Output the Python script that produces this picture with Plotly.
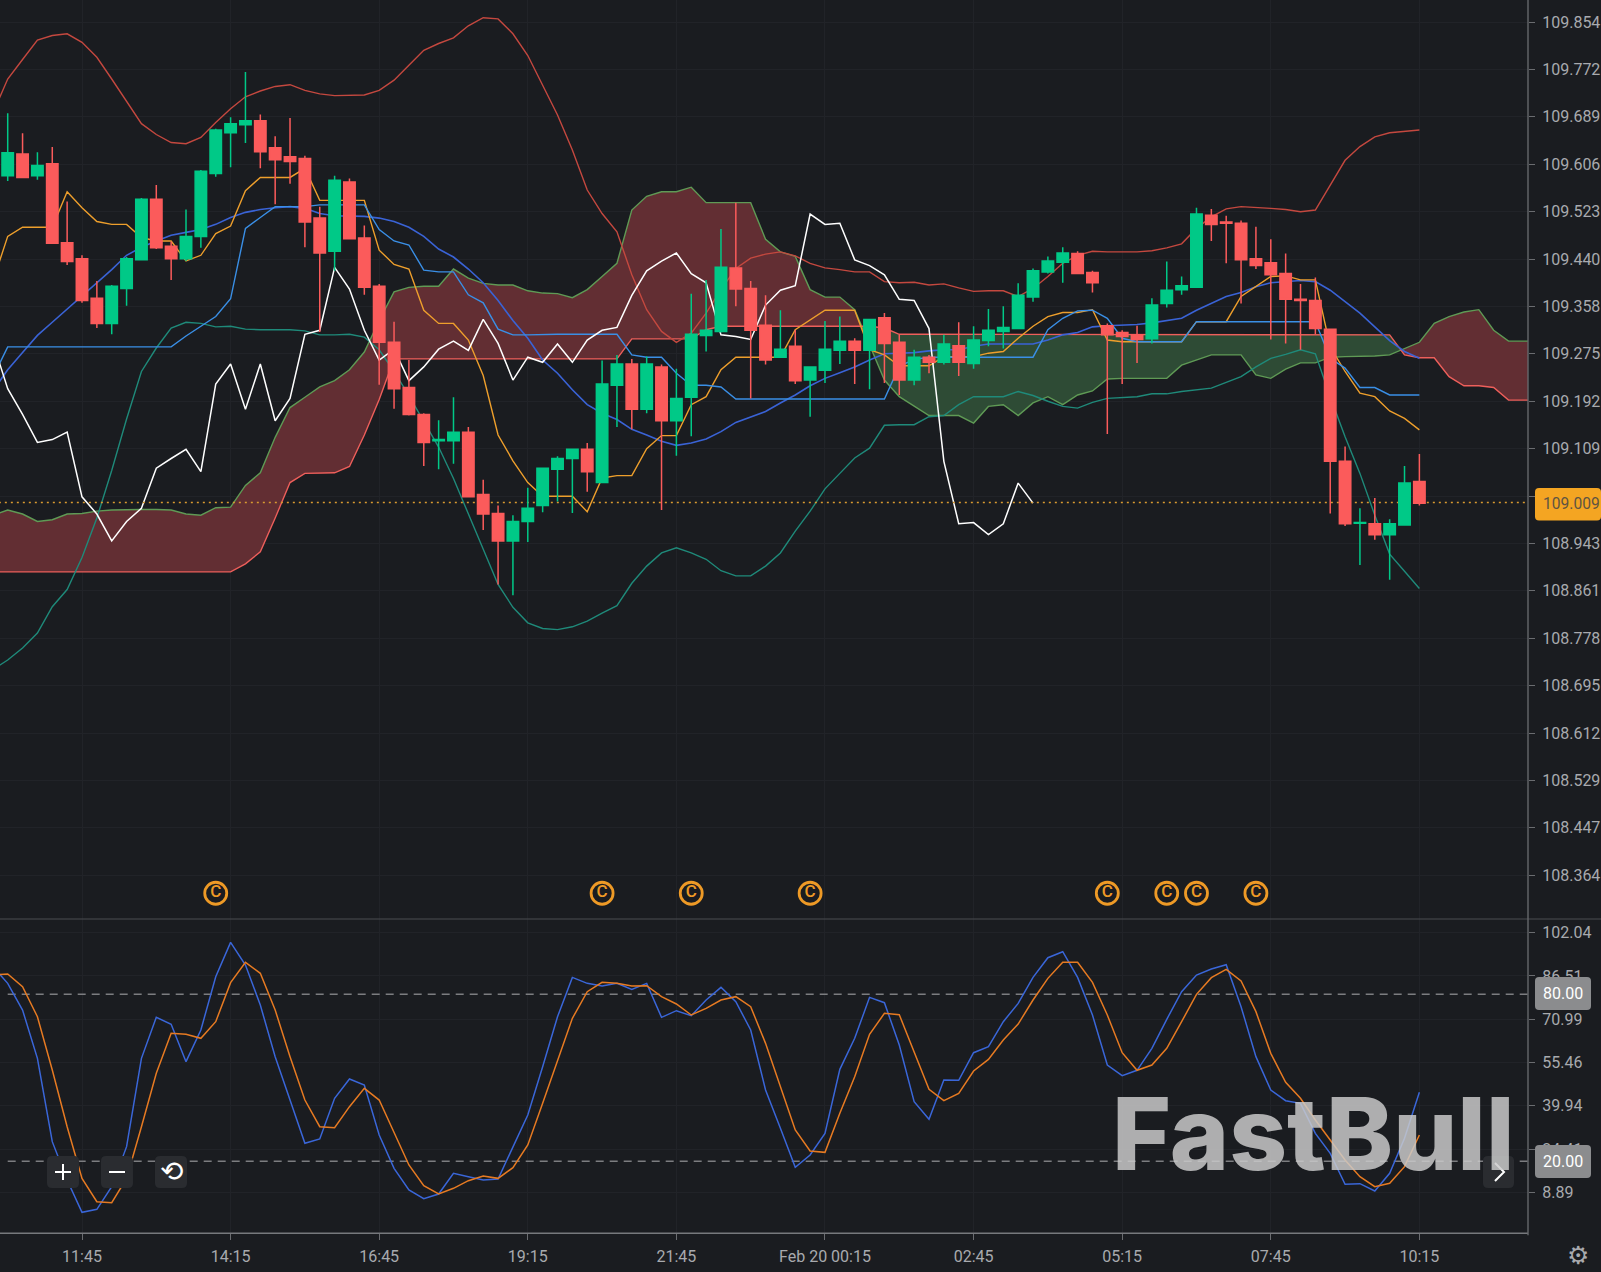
import numpy as np
import plotly.graph_objects as go

W, H = 1601, 1272
BG = "#1a1c20"

# ---------- candles (15 min bars, index 0..95) ----------
opens = [109.586,109.624,109.586,109.607,109.469,109.441,109.372,109.328,109.389,109.439,
 109.545,109.463,109.441,109.480,109.590,109.661,109.675,109.682,109.635,109.619,
 109.616,109.512,109.454,109.575,109.477,109.393,109.295,109.216,109.169,109.123,
 109.123,109.138,109.029,108.996,108.948,108.982,109.010,109.073,109.092,109.108,
 109.050,109.220,109.257,109.178,109.252,109.158,109.199,109.307,109.314,109.425,
 109.389,109.325,109.269,109.288,109.229,109.246,109.281,109.297,109.281,109.338,
 109.295,109.229,109.269,109.260,109.289,109.258,109.298,109.314,109.319,109.374,
 109.418,109.435,109.450,109.417,109.324,109.312,109.308,109.301,109.363,109.387,
 109.391,109.517,109.505,109.503,109.441,109.434,109.415,109.370,109.368,109.318,
 109.087,108.979,108.978,108.959,108.976,109.052]
highs = [109.695,109.660,109.627,109.636,109.541,109.447,109.402,109.395,109.444,109.547,
 109.570,109.471,109.527,109.596,109.668,109.688,109.767,109.693,109.655,109.687,
 109.621,109.532,109.586,109.581,109.499,109.397,109.331,109.264,109.171,109.159,
 109.199,109.147,109.055,109.010,108.993,109.041,109.075,109.096,109.109,109.119,
 109.263,109.273,109.266,109.270,109.256,109.249,109.380,109.404,109.493,109.539,
 109.402,109.377,109.351,109.317,109.253,109.332,109.340,109.302,109.335,109.346,
 109.308,109.282,109.273,109.308,109.330,109.323,109.353,109.358,109.398,109.424,
 109.445,109.461,109.454,109.420,109.328,109.316,109.324,109.372,109.436,109.410,
 109.530,109.528,109.516,109.508,109.497,109.475,109.450,109.397,109.408,109.318,
 109.113,109.005,109.023,108.986,109.079,109.100]
lows = [109.577,109.583,109.579,109.468,109.430,109.364,109.320,109.309,109.359,109.439,
 109.458,109.404,109.437,109.460,109.584,109.601,109.643,109.599,109.536,109.572,
 109.461,109.313,109.420,109.476,109.378,109.221,109.179,109.167,109.079,109.073,
 109.083,109.025,108.967,108.872,108.853,108.946,108.998,109.017,108.997,109.034,
 109.050,109.147,109.143,109.171,109.002,109.097,109.131,109.279,109.312,109.358,
 109.197,109.256,109.269,109.222,109.165,109.224,109.257,109.222,109.213,109.224,
 109.203,109.220,109.241,109.256,109.236,109.249,109.288,109.284,109.318,109.366,
 109.415,109.399,109.415,109.382,109.135,109.222,109.259,109.293,109.356,109.378,
 109.391,109.472,109.433,109.363,109.423,109.300,109.293,109.282,109.309,108.996,
 108.974,108.906,108.950,108.880,108.976,109.010]
closes = [109.626,109.583,109.604,109.468,109.436,109.368,109.328,109.393,109.441,109.545,
 109.460,109.441,109.480,109.594,109.666,109.677,109.682,109.628,109.614,109.611,
 109.505,109.451,109.578,109.476,109.391,109.295,109.214,109.169,109.120,109.125,
 109.138,109.025,108.995,108.948,108.982,109.005,109.075,109.092,109.108,109.069,
 109.222,109.257,109.178,109.257,109.158,109.197,109.309,109.316,109.426,109.388,
 109.316,109.264,109.283,109.228,109.252,109.283,109.297,109.281,109.335,109.293,
 109.229,109.269,109.260,109.292,109.260,109.299,109.316,109.321,109.377,109.420,
 109.437,109.451,109.415,109.399,109.308,109.305,109.300,109.360,109.386,109.394,
 109.519,109.501,109.503,109.439,109.429,109.413,109.370,109.368,109.319,109.087,
 108.978,108.980,108.959,108.978,109.049,109.014]

# ---------- overlays, index -1..95 ----------
bb_upper = [109.695,109.755,109.789,109.823,109.831,109.834,109.819,109.793,109.755,109.717,109.677,
 109.658,109.644,109.642,109.653,109.679,109.703,109.724,109.734,109.742,109.745,
 109.735,109.729,109.726,109.726,109.727,109.735,109.753,109.779,109.805,109.817,
 109.827,109.848,109.862,109.860,109.834,109.796,109.745,109.692,109.631,109.561,
 109.520,109.488,109.413,109.352,109.314,109.295,109.311,109.346,109.387,109.424,
 109.442,109.449,109.453,109.446,109.433,109.425,109.422,109.418,109.418,109.401,
 109.399,109.400,109.395,109.397,109.390,109.384,109.385,109.385,109.375,109.389,
 109.410,109.433,109.447,109.454,109.453,109.453,109.453,109.455,109.460,109.467,
 109.494,109.514,109.528,109.532,109.531,109.529,109.527,109.523,109.526,109.570,
 109.613,109.637,109.654,109.661,109.663,109.666]
bb_mid = [109.210,109.247,109.277,109.307,109.330,109.353,109.375,109.399,109.422,109.447,109.461,
 109.472,109.482,109.487,109.492,109.501,109.513,109.522,109.527,109.530,109.532,
 109.529,109.520,109.516,109.516,109.515,109.512,109.506,109.496,109.480,109.458,
 109.444,109.423,109.399,109.368,109.333,109.302,109.264,109.241,109.212,109.186,
 109.171,109.160,109.143,109.133,109.122,109.115,109.119,109.126,109.139,109.155,
 109.164,109.174,109.189,109.203,109.219,109.232,109.242,109.252,109.264,109.275,
 109.276,109.277,109.280,109.282,109.282,109.288,109.292,109.292,109.292,109.292,
 109.299,109.308,109.312,109.322,109.324,109.325,109.326,109.329,109.333,109.337,
 109.351,109.363,109.375,109.382,109.392,109.399,109.401,109.403,109.401,109.386,
 109.366,109.346,109.322,109.298,109.279,109.267]
bb_lower = [108.723,108.740,108.761,108.787,108.833,108.863,108.919,108.988,109.071,109.161,109.244,
 109.285,109.320,109.330,109.328,109.322,109.323,109.318,109.317,109.317,109.317,
 109.315,109.308,109.308,109.309,109.304,109.282,109.244,109.202,109.157,109.112,
 109.057,108.995,108.933,108.872,108.832,108.805,108.795,108.793,108.798,108.808,
 108.822,108.835,108.874,108.904,108.927,108.936,108.927,108.916,108.896,108.887,
 108.887,108.904,108.927,108.965,109.000,109.039,109.066,109.093,109.110,109.150,
 109.151,109.151,109.165,109.167,109.186,109.200,109.200,109.200,109.209,109.202,
 109.192,109.183,109.180,109.190,109.197,109.199,109.200,109.205,109.205,109.209,
 109.212,109.215,109.225,109.235,109.252,109.267,109.274,109.282,109.275,109.200,
 109.130,109.066,108.993,108.925,108.895,108.865]
tenkan = [109.401,109.480,109.496,109.496,109.496,109.558,109.530,109.506,109.501,109.501,109.478,
 109.472,109.472,109.437,109.447,109.485,109.498,109.560,109.583,109.583,109.583,
 109.599,109.543,109.543,109.543,109.543,109.456,109.431,109.423,109.351,109.328,
 109.328,109.299,109.237,109.133,109.088,109.050,109.026,109.026,109.026,108.999,
 109.058,109.062,109.062,109.109,109.132,109.132,109.186,109.200,109.247,109.269,
 109.269,109.269,109.269,109.317,109.334,109.351,109.351,109.351,109.282,109.273,
 109.254,109.254,109.254,109.270,109.270,109.270,109.276,109.279,109.302,109.323,
 109.340,109.347,109.347,109.352,109.299,109.296,109.296,109.296,109.296,109.296,
 109.331,109.331,109.331,109.375,109.392,109.410,109.411,109.404,109.404,109.287,
 109.244,109.206,109.200,109.175,109.162,109.142]
kijun = [109.234,109.287,109.287,109.287,109.287,109.287,109.287,109.287,109.287,109.287,109.287,
 109.287,109.287,109.306,109.323,109.340,109.371,109.494,109.513,109.532,109.532,
 109.532,109.535,109.535,109.535,109.535,109.492,109.472,109.465,109.421,109.418,
 109.418,109.378,109.364,109.318,109.308,109.308,109.309,109.309,109.309,109.309,
 109.309,109.309,109.273,109.269,109.269,109.241,109.220,109.220,109.217,109.196,
 109.196,109.196,109.196,109.196,109.196,109.196,109.196,109.196,109.196,109.196,
 109.253,109.265,109.269,109.269,109.269,109.269,109.269,109.269,109.269,109.269,
 109.317,109.337,109.350,109.351,109.337,109.302,109.296,109.296,109.296,109.296,
 109.331,109.331,109.331,109.331,109.331,109.331,109.331,109.331,109.331,109.267,
 109.250,109.216,109.216,109.203,109.203,109.203]
# lagging line, index -1..69
chikou = [109.295,109.214,109.169,109.120,109.125,109.138,109.025,108.995,108.948,108.982,109.005,
 109.075,109.092,109.108,109.069,109.222,109.257,109.178,109.257,109.158,109.197,
 109.309,109.316,109.426,109.388,109.316,109.264,109.283,109.228,109.252,109.283,
 109.297,109.281,109.335,109.293,109.229,109.269,109.260,109.292,109.260,109.299,
 109.316,109.321,109.377,109.420,109.437,109.451,109.415,109.399,109.308,109.305,
 109.300,109.360,109.386,109.394,109.519,109.501,109.503,109.439,109.429,109.413,
 109.370,109.368,109.319,109.087,108.978,108.980,108.959,108.978,109.049,109.014]
# cloud edges, index -1..103
senkou_a = [108.993,109.002,108.995,108.982,108.985,108.995,108.996,109.000,109.002,109.003,109.003,
 109.003,109.002,108.995,108.993,109.006,109.007,109.045,109.067,109.129,109.181,
 109.199,109.217,109.228,109.247,109.278,109.333,109.383,109.391,109.393,109.393,
 109.423,109.407,109.398,109.395,109.395,109.385,109.381,109.380,109.373,109.387,
 109.410,109.433,109.526,109.550,109.558,109.558,109.566,109.539,109.539,109.539,
 109.539,109.475,109.453,109.445,109.387,109.374,109.374,109.352,109.291,109.229,
 109.200,109.183,109.167,109.167,109.167,109.154,109.183,109.186,109.167,109.189,
 109.200,109.186,109.203,109.210,109.231,109.232,109.232,109.232,109.232,109.255,
 109.264,109.273,109.273,109.273,109.238,109.232,109.248,109.259,109.259,109.269,
 109.270,109.270,109.271,109.273,109.284,109.295,109.328,109.340,109.348,109.352,
 109.316,109.297,109.297,109.297]
senkou_b = [108.894,108.894,108.894,108.894,108.894,108.894,108.894,108.894,108.894,108.894,108.894,
 108.894,108.894,108.894,108.894,108.894,108.894,108.908,108.929,108.988,109.050,
 109.066,109.066,109.067,109.078,109.133,109.195,109.266,109.266,109.266,109.266,
 109.266,109.266,109.266,109.266,109.266,109.266,109.266,109.266,109.266,109.266,
 109.266,109.266,109.301,109.301,109.301,109.301,109.301,109.317,109.323,109.323,
 109.323,109.323,109.323,109.323,109.323,109.323,109.323,109.323,109.323,109.320,
 109.309,109.309,109.309,109.309,109.309,109.309,109.309,109.309,109.309,109.309,
 109.309,109.309,109.309,109.309,109.309,109.309,109.309,109.309,109.309,109.309,
 109.309,109.309,109.309,109.309,109.309,109.309,109.309,109.309,109.309,109.309,
 109.309,109.309,109.309,109.308,109.273,109.268,109.268,109.235,109.219,109.219,
 109.216,109.194,109.194,109.194]

# ---------- oscillator, index -1..95 ----------
stoch_k = [89.85,83.87,74.30,56.96,27.06,13.31,1.71,2.78,10.91,25.27,56.96,
 71.67,69.16,55.76,67.13,86.26,98.58,90.45,76.10,57.56,41.99,
 26.46,28.02,42.61,49.54,47.39,29.45,17.49,9.72,6.61,8.28,
 15.70,14.50,13.31,13.67,25.27,36.63,53.97,71.91,86.02,83.87,
 82.91,83.87,81.72,83.87,71.67,74.06,72.27,77.89,82.44,77.29,
 67.13,45.60,31.84,17.85,22.28,30.05,53.01,64.14,78.85,76.93,
 61.74,41.41,35.07,49.19,49.07,58.99,61.15,70.12,76.69,86.02,
 93.08,95.23,86.02,72.51,54.57,50.74,52.66,60.55,70.95,80.88,
 86.86,89.01,90.57,75.50,57.56,45.60,41.77,40.81,30.05,22.87,
 11.75,11.99,9.36,15.70,28.26,44.76]
stoch_d = [86.86,87.22,82.67,71.91,52.77,32.44,13.90,5.53,5.17,13.90,32.44,
 51.58,65.93,65.57,64.14,70.12,84.11,91.41,87.46,74.30,57.56,
 41.99,32.44,32.08,39.62,46.20,41.99,30.05,18.69,11.27,8.28,
 10.32,13.07,14.74,13.90,17.73,25.86,40.81,56.36,71.31,80.88,
 84.23,83.87,82.91,83.03,79.09,76.46,72.51,74.90,77.89,79.09,
 75.50,62.34,46.79,31.25,23.71,23.23,37.23,50.38,65.57,73.11,
 72.63,59.35,45.84,41.77,44.40,52.42,56.60,63.54,69.26,77.89,
 85.66,91.41,91.41,84.23,72.51,58.99,52.66,54.57,60.55,70.12,
 79.92,85.90,88.89,84.71,73.71,58.75,48.35,42.61,34.83,27.66,
 20.48,14.50,10.91,12.11,18.09,29.45]

# ---------- events, ticks, levels ----------
event_idx = [14, 40, 46, 54, 74, 78, 80, 84]
event_price = [108.3325] * len(event_idx)
last_price_level = 109.015
last_price_text = "109.009"
stoch_levels = [80.00, 20.00]
time_tick_idx = [5, 15, 25, 35, 45, 55, 65, 75, 85, 95]
time_tick_text = ["11:45", "14:15", "16:45", "19:15", "21:45", "Feb 20 00:15", "02:45", "05:15", "07:45", "10:15"]
price_tick_vals = [109.854,109.772,109.689,109.606,109.523,109.440,109.358,109.275,109.192,
                   109.109,109.026,108.943,108.861,108.778,108.695,108.612,108.529,108.447,108.364]
# the 109.026 label sits wholly under the last-price tag in the reference
price_tick_text = ["109.854","109.772","109.689","109.606","109.523","109.440","109.358","109.275","109.192",
                   "109.109","","108.943","108.861","108.778","108.695","108.612","108.529","108.447","108.364"]
stoch_ticks = ["102.04","86.51","70.99","55.46","39.94","24.41","8.89"]

idx = np.arange(len(closes))
line_idx = np.arange(-1, 96)
cloud_idx = np.arange(-1, 104)
chikou_idx = np.arange(-1, 70)

# ---------- geometry ----------
AX_X = 1528
SEP_Y = 919
BOT_Y = 1233.3
xd = AX_X / W
def py(y):
    return 1 - y / H
def px(x):
    return x / W

TXT = "#a8aaae"
FONT = "Roboto"
GRID = "#212328"
AXC = "#6a6c70"

fig = go.Figure()

# cloud
a = np.array(senkou_a); b = np.array(senkou_b); cx = cloud_idx.astype(float)
def cloud_parts():
    parts = []
    sign = np.sign(a - b)
    cur_x, cur_a, cur_b = [cx[0]], [a[0]], [b[0]]
    for k in range(1, len(cx)):
        if sign[k] != sign[k-1] and sign[k] != 0 and sign[k-1] != 0:
            d0, d1 = a[k-1]-b[k-1], a[k]-b[k]
            t = d0 / (d0 - d1)
            xc = cx[k-1] + t; yc = a[k-1] + t*(a[k]-a[k-1])
            cur_x.append(xc); cur_a.append(yc); cur_b.append(yc)
            parts.append((cur_x, cur_a, cur_b, sign[k-1]))
            cur_x, cur_a, cur_b = [xc], [yc], [yc]
        cur_x.append(cx[k]); cur_a.append(a[k]); cur_b.append(b[k])
    parts.append((cur_x, cur_a, cur_b, sign[-1]))
    return parts
for xs, ya, yb, s in cloud_parts():
    fig.add_trace(go.Scatter(x=xs + xs[::-1], y=ya + yb[::-1], mode="lines", line=dict(width=0),
                             fill="toself", fillcolor="#622e33" if s > 0 else "#2e4b35",
                             hoverinfo="skip", showlegend=False))

def add_line(x, y, color, name, width=1.4, row_axes=("x", "y")):
    fig.add_trace(go.Scatter(x=x, y=y, mode="lines", name=name, line=dict(color=color, width=width),
                             xaxis=row_axes[0], yaxis=row_axes[1], showlegend=False, hoverinfo="skip"))

add_line(cloud_idx, senkou_a, "#5f9a55", "Senkou A")
add_line(cloud_idx, senkou_b, "#ee5f5b", "Senkou B")
add_line(line_idx, bb_upper, "#c4483f", "BB upper")
add_line(line_idx, bb_lower, "#1f8a7a", "BB lower")
add_line(line_idx, bb_mid, "#3a63d6", "BB mid", 1.6)
add_line(line_idx, tenkan, "#ee9f2c", "Tenkan")
add_line(line_idx, kijun, "#3a8fe6", "Kijun")
add_line(chikou_idx, chikou, "#ffffff", "Chikou", 1.5)

# last price line
fig.add_trace(go.Scatter(x=[-1, 104], y=[last_price_level]*2, mode="lines", hoverinfo="skip", showlegend=False,
                         line=dict(color="#d99a30", width=1.4, dash="2px,4px")))

# candles on an overlay subplot so they cover the lines
fig.add_trace(go.Candlestick(x=idx, open=opens, high=highs, low=lows, close=closes, xaxis="x3", yaxis="y3",
    increasing=dict(line=dict(color="#00c987", width=1.5), fillcolor="#00c987"),
    decreasing=dict(line=dict(color="#fb5b5b", width=1.5), fillcolor="#fb5b5b"),
    whiskerwidth=0, showlegend=False, hoverinfo="skip"))

# event markers
fig.add_trace(go.Scatter(x=event_idx, y=event_price, mode="markers+text", text=["C"]*len(event_idx),
    textposition="middle center", textfont=dict(color="#ee9a26", size=17, family=FONT, weight=500),
    marker=dict(symbol="circle-open", size=22, color="#ee9a26", line=dict(width=2.8, color="#ee9a26")),
    xaxis="x3", yaxis="y3", showlegend=False, hoverinfo="skip"))

# oscillator
for lv in stoch_levels:
    fig.add_trace(go.Scatter(x=[0.0, 104], y=[lv, lv], mode="lines", xaxis="x2", yaxis="y2", hoverinfo="skip",
                             showlegend=False, line=dict(color="#7c7d80", width=1.5, dash="8px,6px")))
add_line(line_idx, stoch_k, "#3a66d8", "K", 1.5, ("x2", "y2"))
add_line(line_idx, stoch_d, "#e67a22", "D", 1.5, ("x2", "y2"))

xrange = [-0.518, 102.31]
main_range = [108.2875, 109.893]
st_range = [-5.82, 106.96]

fig.update_layout(
    width=W, height=H, margin=dict(l=0, r=0, t=0, b=0), autosize=False,
    paper_bgcolor=BG, plot_bgcolor=BG, showlegend=False, boxgap=0.23, boxgroupgap=0, dragmode=False,
    font=dict(family=FONT, color=TXT, size=16),
    xaxis=dict(domain=[0, xd], range=xrange, anchor="y", tickvals=time_tick_idx, ticktext=[""]*10,
               showgrid=True, gridcolor=GRID, gridwidth=1, zeroline=False, ticks="", rangeslider=dict(visible=False)),
    yaxis=dict(domain=[py(SEP_Y), 1], range=main_range, anchor="x", side="right",
               tickvals=price_tick_vals, ticktext=price_tick_text,
               showgrid=True, gridcolor=GRID, zeroline=False, ticks="outside", ticklen=6, tickcolor=AXC, tickwidth=1,
               ticklabelstandoff=4, tickfont=dict(size=16, color=TXT, family=FONT)),
    xaxis3=dict(overlaying="x", range=xrange, anchor="y3", visible=False, domain=[0, xd],
                rangeslider=dict(visible=False)),
    yaxis3=dict(overlaying="y", range=main_range, anchor="x3", visible=False, domain=[py(SEP_Y), 1]),
    xaxis2=dict(domain=[0, xd], range=xrange, anchor="y2", tickvals=time_tick_idx, ticktext=time_tick_text,
                showgrid=True, gridcolor=GRID, zeroline=False, ticks="outside", ticklen=6, tickcolor=AXC,
                tickfont=dict(size=16, color=TXT, family=FONT), tickangle=0, ticklabelstandoff=2),
    yaxis2=dict(domain=[py(BOT_Y), py(SEP_Y)], range=st_range, anchor="x2", side="right",
                tickvals=[float(t) for t in stoch_ticks], ticktext=stoch_ticks,
                showgrid=True, gridcolor=GRID, zeroline=False, ticks="outside", ticklen=6, tickcolor=AXC,
                ticklabelstandoff=4, tickfont=dict(size=16, color=TXT, family=FONT)),
)

def rrect(x0, y0, x1, y1, r, fill, layer="above"):
    fx = lambda v: f"{px(v):.6f}"
    fy = lambda v: f"{py(v):.6f}"
    path = (f"M {fx(x0+r)} {fy(y0)} L {fx(x1-r)} {fy(y0)} Q {fx(x1)} {fy(y0)} {fx(x1)} {fy(y0+r)} "
            f"L {fx(x1)} {fy(y1-r)} Q {fx(x1)} {fy(y1)} {fx(x1-r)} {fy(y1)} "
            f"L {fx(x0+r)} {fy(y1)} Q {fx(x0)} {fy(y1)} {fx(x0)} {fy(y1-r)} "
            f"L {fx(x0)} {fy(y0+r)} Q {fx(x0)} {fy(y0)} {fx(x0+r)} {fy(y0)} Z")
    return dict(type="path", xref="paper", yref="paper", path=path, fillcolor=fill, line=dict(width=0), layer=layer)

def hline(x0, x1, y, color, w=1):
    return dict(type="line", xref="paper", yref="paper", x0=px(x0), x1=px(x1), y0=py(y), y1=py(y),
                line=dict(color=color, width=w), layer="above")

def vline(x, y0, y1, color, w=1):
    return dict(type="line", xref="paper", yref="paper", x0=px(x), x1=px(x), y0=py(y0), y1=py(y1),
                line=dict(color=color, width=w), layer="above")

def chevron(x0, y0, xm, ym, y1, color, w=2):
    path = f"M {px(x0):.6f} {py(y0):.6f} L {px(xm):.6f} {py(ym):.6f} L {px(x0):.6f} {py(y1):.6f}"
    return dict(type="path", xref="paper", yref="paper", path=path, line=dict(color=color, width=w), layer="above")

shapes = [
    hline(0, W, SEP_Y, "#4a4c50", 1.2),
    hline(0, AX_X, BOT_Y, "#77797d", 1.6),
    vline(AX_X, 0, BOT_Y + 2, "#66686c", 1.4),
    rrect(1535, 488, 1601, 520.5, 4, "#f4a522"),
    rrect(1535, 977, 1591, 1010, 4, "#8b8c8e"),
    rrect(1535, 1145, 1591, 1178, 4, "#8b8c8e"),
    rrect(47, 1156, 79, 1188, 5, "#2a2c30"),
    rrect(101, 1156, 133, 1188, 5, "#2a2c30"),
    rrect(155, 1156, 187, 1188, 5, "#2a2c30"),
    rrect(1483, 1156, 1514, 1188, 5, "#2a2c30"),
    hline(55, 71, 1172, "#ffffff", 2),
    vline(63, 1164, 1180, "#ffffff", 2),
    hline(109, 125, 1172, "#ffffff", 2),
    chevron(1495, 1163, 1504, 1172, 1181, "#ffffff", 2),
]
fig.update_layout(shapes=shapes)

def ann(x, y, text, size, color, anchor="center", family=FONT, **kw):
    return dict(xref="paper", yref="paper", x=px(x), y=py(y), text=text, showarrow=False, xanchor=anchor,
                yanchor="middle", font=dict(size=size, color=color, family=family, **kw))

annotations = [
    ann(1313, 1133, "FastBull", 101, "rgba(202,202,202,0.84)", "center", "Inter", weight=800),
    ann(1541, 504, last_price_text, 15.6, "#5e5443", "left"),
    ann(1563, 993, f"{stoch_levels[0]:.2f}", 16, "#ffffff"),
    ann(1563, 1161, f"{stoch_levels[1]:.2f}", 16, "#ffffff"),
    ann(171, 1171, "⟲", 28, "#ffffff", "center", "DejaVu Sans"),
    ann(1578, 1255, "⚙", 25, "#a8aaae", "center", "DejaVu Sans"),
]
fig.update_layout(annotations=annotations)

fig.write_html("out.html", config=dict(displayModeBar=False),
               post_script="document.body.style.margin='0';document.body.style.background='%s';document.documentElement.style.overflow='hidden';" % BG)
